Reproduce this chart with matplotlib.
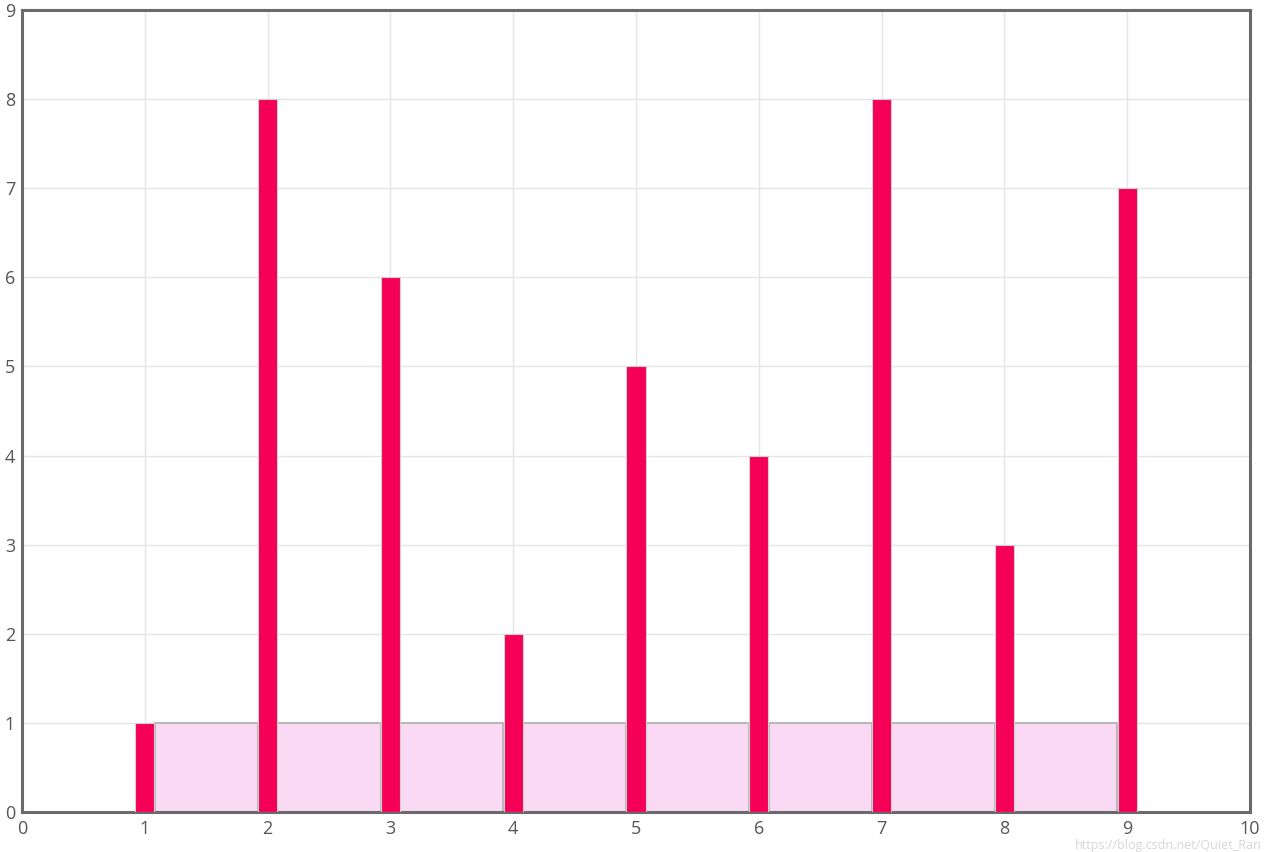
import matplotlib.pyplot as plt

# red bars at each integer, pink filler bars between them
xs = [1, 2, 3, 4, 5, 6, 7, 8, 9]
heights = [1, 8, 6, 2, 5, 4, 8, 3, 7]
mid_xs = [1.5, 2.5, 3.5, 4.5, 5.5, 6.5, 7.5, 8.5]
mid_heights = [1, 1, 1, 1, 1, 1, 1, 1]

plt.rcParams['font.family'] = ['Open Sans', 'DejaVu Sans']

fig = plt.figure(figsize=(12.71, 8.52), dpi=100)
ax = fig.add_axes([22/1271, 40/852, 1228/1271, 802/852])

ax.bar(mid_xs, mid_heights, width=0.84, color='#fad9f5', edgecolor='#b8b8b8', linewidth=1.4, zorder=2)
ax.bar(xs, heights, width=0.155, color='#f50057', edgecolor='#d0d0d0', linewidth=0.8, zorder=3)

ax.set_xlim(0, 10)
ax.set_ylim(0, 9)
ax.set_xticks(range(11))
ax.set_yticks(range(10))
ax.grid(True, color='#e4e4ea', linewidth=1, zorder=0)
ax.tick_params(length=0, labelsize=13, labelcolor='#555555', pad=6)
ax.tick_params(axis='y', pad=5)
for s in ax.spines.values():
    s.set_color('#6a6a6a')
    s.set_linewidth(2.2)

# watermark, kept just below the tick labels
fig.text(1262/1271, 6/852, 'https://blog.csdn.net/Quiet_Ran', ha='right', va='center',
         fontsize=9, color='#d6d6d6')

fig.savefig('out.png', dpi=100)
